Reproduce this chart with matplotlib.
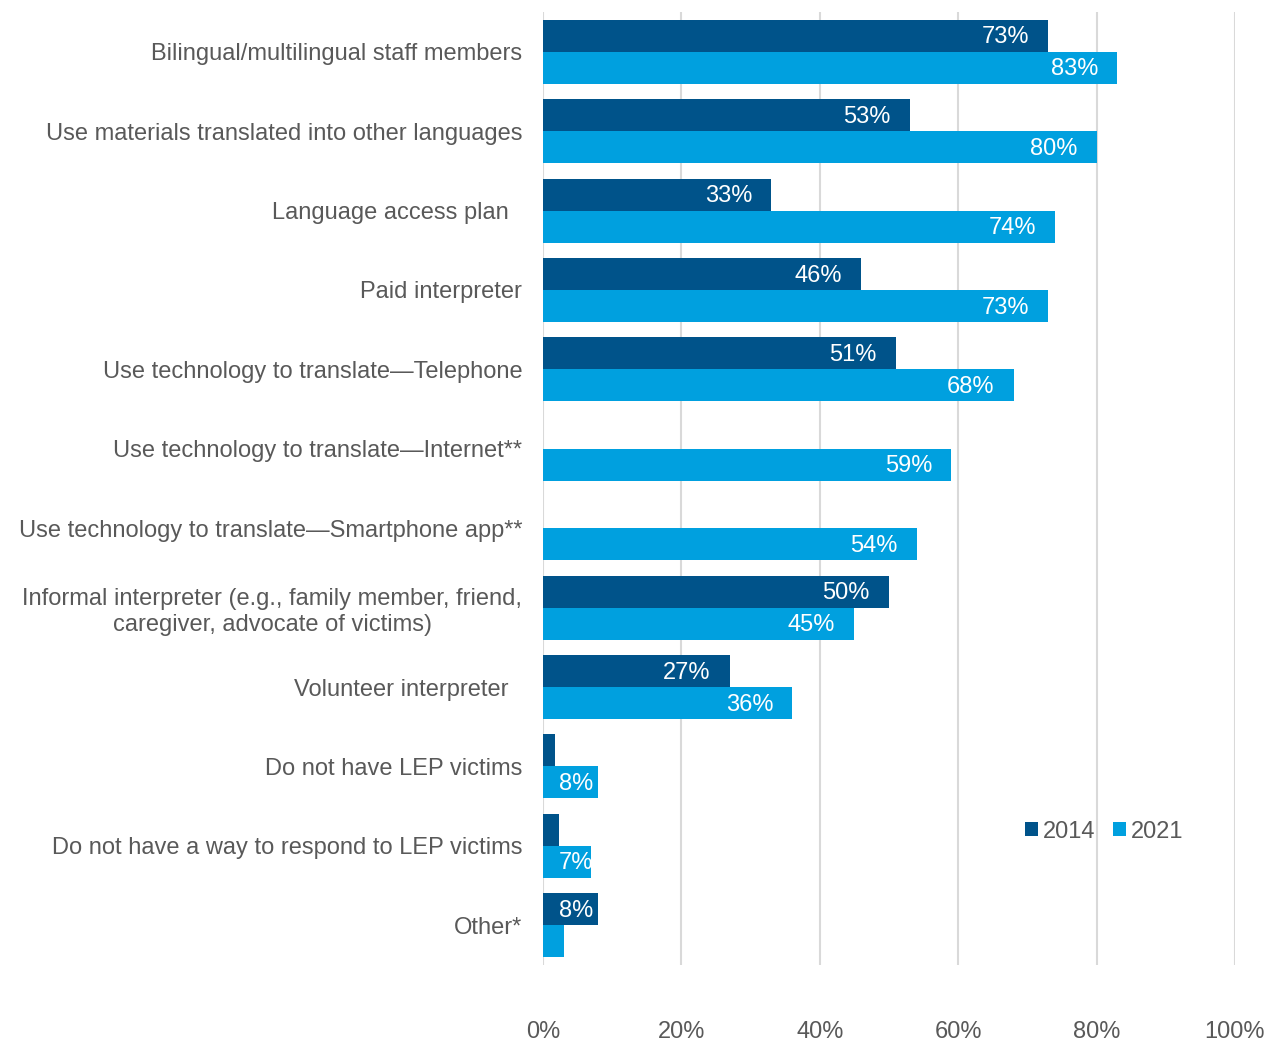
import matplotlib.pyplot as plt
import numpy as np

plt.rcParams['font.family'] = ['Liberation Sans', 'DejaVu Sans']

categories = [
    "Bilingual/multilingual staff members",
    "Use materials translated into other languages",
    "Language access plan  ",
    "Paid interpreter",
    "Use technology to translate\u2014Telephone",
    "Use technology to translate\u2014Internet**",
    "Use technology to translate\u2014Smartphone app**",
    "Informal interpreter (e.g., family member, friend,\ncaregiver, advocate of victims)",
    "Volunteer interpreter  ",
    "Do not have LEP victims",
    "Do not have a way to respond to LEP victims",
    "Other*",
]
vals_2014 = [73, 53, 33, 46, 51, None, None, 50, 27, 1.8, 2.3, 8]
vals_2021 = [83, 80, 74, 73, 68, 59, 54, 45, 36, 8, 7, 3]
labels_2014 = ["73%", "53%", "33%", "46%", "51%", "", "", "50%", "27%", "", "", "8%"]
labels_2021 = ["83%", "80%", "74%", "73%", "68%", "59%", "54%", "45%", "36%", "8%", "7%", ""]

c2014 = "#00538A"
c2021 = "#00A0DF"
gray = "#595959"
fs = 17

fig = plt.figure(figsize=(12.66, 10.44), dpi=100)
ax = fig.add_axes([543 / 1266, 1 - 965 / 1044, 692 / 1266, 953 / 1044])

y = np.arange(len(categories))
h = 0.403
v14 = [np.nan if v is None else v for v in vals_2014]
b1 = ax.barh(y - h / 2, v14, height=h, color=c2014, label="2014", zorder=2)
b2 = ax.barh(y + h / 2, vals_2021, height=h, color=c2021, label="2021", zorder=2)

# value labels sit inside the bar end; short bars get them pinned near the axis
for bars, labs in ((b1, labels_2014), (b2, labels_2021)):
    for bar, lab in zip(bars, labs):
        if not lab:
            continue
        yc = bar.get_y() + bar.get_height() / 2 + 0.02
        if bar.get_width() < 15:
            ax.text(2.3, yc, lab, ha="left", va="center", color="white", fontsize=fs, zorder=3)
        else:
            ax.text(bar.get_width() - 2.75, yc, lab, ha="right", va="center",
                    color="white", fontsize=fs, zorder=3)

ax.set_ylim(len(categories) - 0.5, -0.5)
ax.set_xlim(0, 100)
ax.set_yticks(y)
ax.set_yticklabels(categories, fontsize=fs, color=gray, multialignment="center")
ax.set_xticks(np.arange(0, 101, 20))
ax.set_xticklabels([f"{t}%" for t in range(0, 101, 20)], fontsize=fs, color=gray)
ax.tick_params(axis="y", length=0, pad=15)
ax.tick_params(axis="x", length=0, pad=40)
ax.grid(axis="x", color="#D9D9D9", linewidth=1.5, zorder=0)
for s in ax.spines.values():
    s.set_visible(False)

ax.legend(loc="center left", bbox_to_anchor=(0.68, 0.140), ncol=2, frameon=False,
          fontsize=fs, labelcolor=gray, handlelength=0.55, handleheight=0.55,
          handletextpad=0.2, columnspacing=0.75, borderpad=0)

fig.savefig("out.png", dpi=100)
